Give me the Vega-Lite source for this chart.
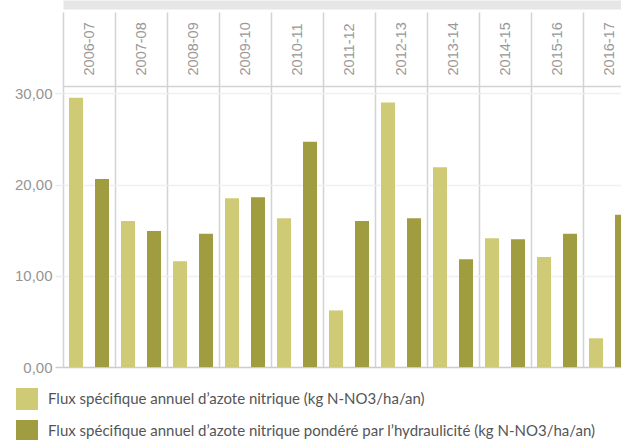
{
  "$schema": "https://vega.github.io/schema/vega-lite/v6.json",
  "width": 558,
  "height": 281,
  "autosize": {"type": "none"},
  "padding": {"left": 63, "top": 86, "right": 0, "bottom": 73},
  "background": "white",
  "config": {"view": {"stroke": null}},
  "data": {
    "values": [
      {"annee": "2006-07", "serie": "Flux spécifique annuel d’azote nitrique (kg N-NO3/ha/an)", "valeur": 29.5},
      {"annee": "2006-07", "serie": "Flux spécifique annuel d’azote nitrique pondéré par l’hydraulicité (kg N-NO3/ha/an)", "valeur": 20.6},
      {"annee": "2007-08", "serie": "Flux spécifique annuel d’azote nitrique (kg N-NO3/ha/an)", "valeur": 16.0},
      {"annee": "2007-08", "serie": "Flux spécifique annuel d’azote nitrique pondéré par l’hydraulicité (kg N-NO3/ha/an)", "valeur": 14.9},
      {"annee": "2008-09", "serie": "Flux spécifique annuel d’azote nitrique (kg N-NO3/ha/an)", "valeur": 11.6},
      {"annee": "2008-09", "serie": "Flux spécifique annuel d’azote nitrique pondéré par l’hydraulicité (kg N-NO3/ha/an)", "valeur": 14.6},
      {"annee": "2009-10", "serie": "Flux spécifique annuel d’azote nitrique (kg N-NO3/ha/an)", "valeur": 18.5},
      {"annee": "2009-10", "serie": "Flux spécifique annuel d’azote nitrique pondéré par l’hydraulicité (kg N-NO3/ha/an)", "valeur": 18.6},
      {"annee": "2010-11", "serie": "Flux spécifique annuel d’azote nitrique (kg N-NO3/ha/an)", "valeur": 16.3},
      {"annee": "2010-11", "serie": "Flux spécifique annuel d’azote nitrique pondéré par l’hydraulicité (kg N-NO3/ha/an)", "valeur": 24.7},
      {"annee": "2011-12", "serie": "Flux spécifique annuel d’azote nitrique (kg N-NO3/ha/an)", "valeur": 6.2},
      {"annee": "2011-12", "serie": "Flux spécifique annuel d’azote nitrique pondéré par l’hydraulicité (kg N-NO3/ha/an)", "valeur": 16.0},
      {"annee": "2012-13", "serie": "Flux spécifique annuel d’azote nitrique (kg N-NO3/ha/an)", "valeur": 29.0},
      {"annee": "2012-13", "serie": "Flux spécifique annuel d’azote nitrique pondéré par l’hydraulicité (kg N-NO3/ha/an)", "valeur": 16.3},
      {"annee": "2013-14", "serie": "Flux spécifique annuel d’azote nitrique (kg N-NO3/ha/an)", "valeur": 21.9},
      {"annee": "2013-14", "serie": "Flux spécifique annuel d’azote nitrique pondéré par l’hydraulicité (kg N-NO3/ha/an)", "valeur": 11.8},
      {"annee": "2014-15", "serie": "Flux spécifique annuel d’azote nitrique (kg N-NO3/ha/an)", "valeur": 14.1},
      {"annee": "2014-15", "serie": "Flux spécifique annuel d’azote nitrique pondéré par l’hydraulicité (kg N-NO3/ha/an)", "valeur": 14.0},
      {"annee": "2015-16", "serie": "Flux spécifique annuel d’azote nitrique (kg N-NO3/ha/an)", "valeur": 12.05},
      {"annee": "2015-16", "serie": "Flux spécifique annuel d’azote nitrique pondéré par l’hydraulicité (kg N-NO3/ha/an)", "valeur": 14.6},
      {"annee": "2016-17", "serie": "Flux spécifique annuel d’azote nitrique (kg N-NO3/ha/an)", "valeur": 3.15},
      {"annee": "2016-17", "serie": "Flux spécifique annuel d’azote nitrique pondéré par l’hydraulicité (kg N-NO3/ha/an)", "valeur": 16.7}
    ]
  },
  "resolve": {"axis": {"x": "independent"}},
  "layer": [
    {
      "mark": {"type": "bar"},
      "encoding": {
        "x": {
          "field": "annee",
          "type": "nominal",
          "sort": null,
          "scale": {"range": [0, 572], "paddingInner": 0, "paddingOuter": 0},
          "axis": {
            "orient": "top",
            "title": null,
            "tickBand": "extent",
            "tickSize": 74,
            "tickColor": "#d3d3d3",
            "tickWidth": 1.5,
            "domainColor": "#d3d3d3",
            "domainWidth": 1.5,
            "grid": true,
            "gridColor": "#d3d3d3",
            "gridWidth": 1.5,
            "labelAngle": -90,
            "labelPadding": -63,
            "labelFont": "Liberation Sans",
            "labelFontSize": 14.5,
            "labelColor": "#999999"
          }
        },
        "xOffset": {
          "field": "serie",
          "sort": null,
          "scale": {"paddingInner": 0.4615, "paddingOuter": 0.2308}
        },
        "y": {
          "field": "valeur",
          "type": "quantitative",
          "scale": {"domain": [0, 30.8], "nice": false},
          "axis": {
            "title": null,
            "values": [0, 10, 20, 30],
            "domain": false,
            "tickSize": 8,
            "tickColor": {"condition": {"test": "datum.value === 0", "value": "#cccccc"}, "value": "#ececec"},
            "tickWidth": 1.5,
            "grid": true,
            "gridColor": {"condition": {"test": "datum.value === 0", "value": "#cccccc"}, "value": "#f0f0f0"},
            "gridWidth": 1.5,
            "labelExpr": "replace(format(datum.value, '.2f'), '.', ',')",
            "labelFont": "Liberation Sans",
            "labelFontSize": 15,
            "labelColor": "#959595",
            "labelPadding": 3
          }
        },
        "color": {
          "field": "serie",
          "type": "nominal",
          "sort": null,
          "scale": {"range": ["#cfca76", "#a09c40"]},
          "legend": {
            "title": null,
            "orient": "none",
            "legendX": -47,
            "legendY": 302,
            "symbolType": "square",
            "symbolSize": 484,
            "symbolStrokeWidth": 0,
            "symbolOpacity": 1,
            "rowPadding": 10,
            "labelOffset": 10,
            "labelFont": "Lato",
            "labelFontSize": 15,
            "labelColor": "#555555",
            "labelLimit": 2000
          }
        }
      }
    },
    {
      "mark": {"type": "bar", "opacity": 0},
      "encoding": {
        "x": {
          "field": "annee",
          "type": "nominal",
          "sort": null,
          "axis": {
            "orient": "top",
            "offset": 81.5,
            "title": null,
            "domainColor": "#e6e6e6",
            "domainWidth": 9,
            "ticks": false,
            "labels": false,
            "grid": false
          }
        },
        "y": {"field": "valeur", "type": "quantitative"}
      }
    }
  ]
}
